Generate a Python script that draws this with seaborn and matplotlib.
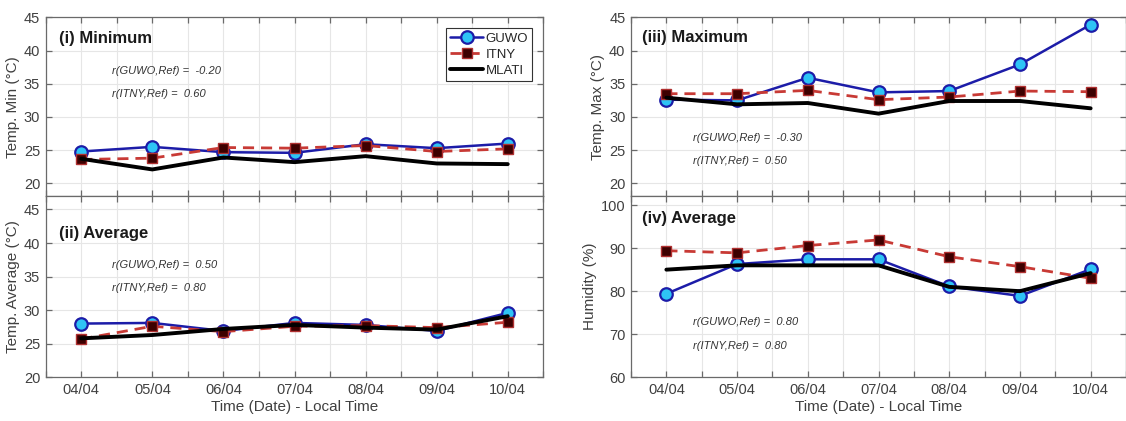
"""Weather station comparison: GUWO / ITNY vs MLATI reference."""

import matplotlib

matplotlib.use("Agg")
import matplotlib.pyplot as plt
import numpy as np
import pandas as pd
import seaborn as sns
from matplotlib.ticker import MultipleLocator

days = ["04/04", "05/04", "06/04", "07/04", "08/04", "09/04", "10/04"]

min_guwo = [24.8, 25.5, 24.7, 24.6, 25.9, 25.3, 26.0]
min_itny = [23.6, 23.8, 25.4, 25.3, 25.7, 24.8, 25.2]
min_mlati = [23.7, 22.1, 23.9, 23.2, 24.1, 23.0, 22.9]

avg_guwo = [28.0, 28.1, 26.9, 28.1, 27.8, 26.9, 29.6]
avg_itny = [25.7, 27.6, 26.8, 27.6, 27.7, 27.4, 28.2]
avg_mlati = [25.8, 26.3, 27.2, 27.8, 27.4, 27.1, 29.1]

max_guwo = [32.6, 32.5, 35.9, 33.7, 33.9, 37.9, 43.9]
max_itny = [33.5, 33.5, 34.0, 32.6, 33.0, 33.9, 33.8]
max_mlati = [32.9, 31.9, 32.1, 30.5, 32.4, 32.4, 31.3]

hum_guwo = [79.4, 86.3, 87.4, 87.4, 81.1, 78.9, 85.1]
hum_itny = [89.4, 88.9, 90.6, 91.9, 88.0, 85.7, 83.0]
hum_mlati = [85.0, 86.0, 86.0, 86.0, 81.0, 80.0, 84.2]

panel_titles = ["(i) Minimum", "(ii) Average", "(iii) Maximum", "(iv) Average"]
panel_ylabels = ["Temp. Min (°C)", "Temp. Average (°C)", "Temp. Max (°C)", "Humidity (%)"]
r_guwo = ["-0.20", "0.50", "-0.30", "0.80"]
r_itny = ["0.60", "0.80", "0.50", "0.80"]

sns.set_theme(style="whitegrid", context="notebook")
plt.rcParams["font.family"] = ["Liberation Sans", "DejaVu Sans"]

GRAY = "#404040"
SPINE = "#6a6a6a"


def draw_panel(ax, guwo, itny, mlati):
    df = pd.DataFrame({"x": np.arange(len(days)), "GUWO": guwo, "ITNY": itny, "MLATI": mlati})
    sns.lineplot(data=df, x="x", y="GUWO", ax=ax, color="#1c1ca8", linewidth=1.8,
                 marker="o", markersize=9, markerfacecolor="#2ec4f5",
                 markeredgecolor="#1c1ca8", markeredgewidth=1.6, label="GUWO")
    sns.lineplot(data=df, x="x", y="ITNY", ax=ax, color="#c83a35", linewidth=2.0,
                 linestyle=(0, (4, 2.5)), marker="s", markersize=6.5,
                 markerfacecolor="#3d0000", markeredgecolor="#b03030",
                 markeredgewidth=1.0, label="ITNY")
    sns.lineplot(data=df, x="x", y="MLATI", ax=ax, color="black", linewidth=2.8,
                 label="MLATI")


fig = plt.figure(figsize=(11.26, 4.21), dpi=100)
ax_min = fig.add_axes([0.0406, 0.5344, 0.4419, 0.4245])
ax_avg = fig.add_axes([0.0406, 0.1038, 0.4419, 0.4306])
ax_max = fig.add_axes([0.5604, 0.5344, 0.4396, 0.4245])
ax_hum = fig.add_axes([0.5604, 0.1038, 0.4396, 0.4306])
axes = [ax_min, ax_avg, ax_max, ax_hum]

draw_panel(ax_min, min_guwo, min_itny, min_mlati)
draw_panel(ax_avg, avg_guwo, avg_itny, avg_mlati)
draw_panel(ax_max, max_guwo, max_itny, max_mlati)
draw_panel(ax_hum, hum_guwo, hum_itny, hum_mlati)

ylims = [(18.1, 45), (20, 47), (18.1, 45), (60, 102.1)]
ysteps = [5, 5, 5, 10]
title_pos = [(0.027, 0.884), (0.027, 0.794), (0.022, 0.888), (0.022, 0.877)]
r_pos = [(0.133, 0.701, 0.571), (0.133, 0.619, 0.491), (0.126, 0.323, 0.198), (0.126, 0.307, 0.174)]

for i, ax in enumerate(axes):
    ax.set_xlim(-0.5, len(days) - 0.5)
    ax.set_ylim(*ylims[i])
    ax.yaxis.set_major_locator(MultipleLocator(ysteps[i]))
    ax.set_xticks(np.arange(len(days)))
    ax.xaxis.set_minor_locator(MultipleLocator(0.5))
    ax.grid(True, which="major", color="#e6e6e6", linewidth=0.8)
    ax.grid(True, which="minor", axis="x", color="#e6e6e6", linewidth=0.8)
    ax.tick_params(which="both", direction="in", top=True, right=True, bottom=True, left=True,
                   length=4.5, width=0.9, color=SPINE, labelsize=10.5, labelcolor=GRAY, pad=4)
    ax.tick_params(axis="y", which="minor", length=0)
    for sp in ax.spines.values():
        sp.set_color(SPINE)
        sp.set_linewidth(0.9)
    ax.set_ylabel(panel_ylabels[i], fontsize=11, color=GRAY, labelpad=3)
    tx, ty = title_pos[i]
    ax.text(tx, ty, panel_titles[i], transform=ax.transAxes, fontsize=12,
            fontweight="bold", color="#1a1a1a", va="center", ha="left")
    rx, ry1, ry2 = r_pos[i]
    ax.text(rx, ry1, f"r(GUWO,Ref) =  {r_guwo[i]}", transform=ax.transAxes, fontsize=8,
            style="italic", color="#333333", va="center", ha="left")
    ax.text(rx, ry2, f"r(ITNY,Ref) =  {r_itny[i]}", transform=ax.transAxes, fontsize=8,
            style="italic", color="#333333", va="center", ha="left")
    if ax.get_legend() is not None:
        ax.get_legend().remove()

for ax in (ax_min, ax_max):
    ax.set_xticklabels([])
    ax.set_xlabel("")
for ax in (ax_avg, ax_hum):
    ax.set_xticklabels(days)
    ax.set_xlabel("Time (Date) - Local Time", fontsize=11, color=GRAY, labelpad=2)

handles, labels = ax_min.get_legend_handles_labels()
leg = ax_min.legend(handles, labels, loc="upper right", bbox_to_anchor=(0.977, 0.938),
                    borderaxespad=0, fontsize=9.5, handlelength=2.5, handletextpad=0.15,
                    labelspacing=0.3, borderpad=0.3, fancybox=False, framealpha=1)
leg.get_frame().set_edgecolor("#333333")
leg.get_frame().set_linewidth(0.8)

fig.savefig("out.png", dpi=100)
plt.close(fig)
